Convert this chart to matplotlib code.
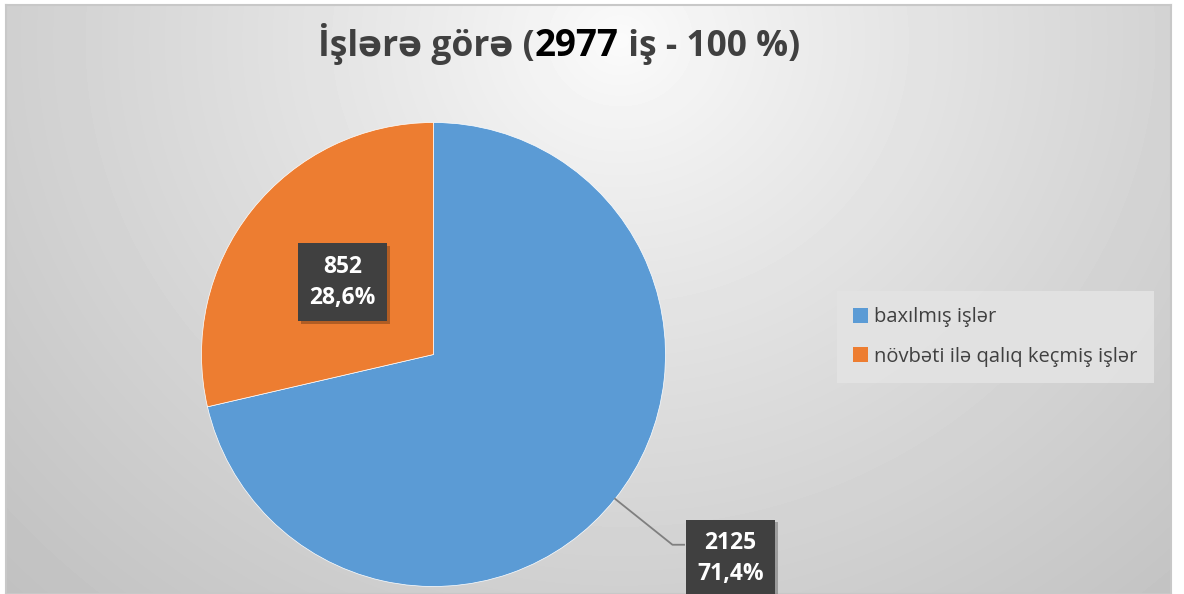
import numpy as np
import matplotlib
matplotlib.use('Agg')
import matplotlib.pyplot as plt
import matplotlib.patheffects as pe
from matplotlib.offsetbox import TextArea, HPacker, AnchoredOffsetbox

# dane
kategorie = ['baxılmış işlər', 'növbəti ilə qalıq keçmiş işlər']
wartosci = [2125, 852]
kolory = ['#5B9BD5', '#ED7D31']
suma = sum(wartosci)

plt.rcParams['font.family'] = ['Open Sans', 'DejaVu Sans']
plt.rcParams['hatch.color'] = '#555555'
plt.rcParams['hatch.linewidth'] = 1.2

W, H = 1184, 594
fig = plt.figure(figsize=(W / 100, H / 100), dpi=100)
fig.patch.set_facecolor('white')

# tlo wykresu - gradient radialny
x0, x1, y0, y1 = 6, 1171, 5, 594
bg = fig.add_axes([x0 / W, 1 - y1 / H, (x1 - x0) / W, (y1 - y0) / H])
xx, yy = np.meshgrid(np.arange(x0, x1), np.arange(y0, y1))
d = np.sqrt((xx - 620) ** 2 + ((yy - 40) * 1.1) ** 2)
d = d / d.max()
jasnosc = 0.985 - 0.23 * d ** 0.85
bg.imshow(jasnosc, cmap='gray', vmin=0, vmax=1, aspect='auto', interpolation='bilinear')
bg.set_xticks([])
bg.set_yticks([])
for s in bg.spines.values():
    s.set_color('#c8c8c8')
    s.set_linewidth(1.5)

# wykres kolowy
cx, cy, r = 433.5, 354.5, 232
ax = fig.add_axes([(cx - r) / W, 1 - (cy + r) / H, 2 * r / W, 2 * r / H])
wedges, _ = ax.pie(wartosci, colors=kolory, startangle=90, counterclock=False,
                   radius=1, wedgeprops={'linewidth': 0.5, 'edgecolor': 'white'})
ax.set_xlim(-1, 1)
ax.set_ylim(-1, 1)
ax.set_aspect('auto')
ax.axis('off')

def etykieta(v):
    return f'{v}\n{v / suma * 100:.1f}%'.replace('.', ',')

box = dict(boxstyle='square,pad=0.5', fc='#404040', ec='none', hatch='..')
cien = [pe.withSimplePatchShadow(offset=(2, -2), shadow_rgbFace='black', alpha=0.25)]

# etykieta pomaranczowa (wewnatrz)
w = wedges[1]
kat = np.deg2rad((w.theta1 + w.theta2) / 2)
t = ax.text(0.5 * np.cos(kat), 0.5 * np.sin(kat), etykieta(wartosci[1]),
            ha='center', va='center', fontsize=16.5, fontweight='bold', color='white',
            linespacing=1.4, bbox=box)
t.get_bbox_patch().set_path_effects(cien)

# etykieta niebieska (na zewnatrz z linia)
w = wedges[0]
kat = np.deg2rad((w.theta1 + w.theta2) / 2)
px, py = np.cos(kat), np.sin(kat)
lx, ly = 1.28, -0.88
ax.plot([px, lx - 0.25, lx - 0.2], [py, ly + 0.06, ly + 0.06], color='#7f7f7f',
        lw=1.3, clip_on=False, zorder=3)
t = ax.text(lx, ly, etykieta(wartosci[0]), ha='center', va='center', fontsize=16.5,
            fontweight='bold', color='white', linespacing=1.4, bbox=box,
            clip_on=False, zorder=4)
t.get_bbox_patch().set_path_effects(cien)

# legenda
leg = fig.legend(wedges, kategorie, loc='center left',
                 bbox_to_anchor=(837 / W, 1 - 337 / H), frameon=True, fontsize=14.5,
                 handlelength=0.75, handleheight=0.75, handletextpad=0.3,
                 labelspacing=0.95, borderpad=0.8, borderaxespad=0)
leg.get_frame().set_facecolor('#e3e3e3')
leg.get_frame().set_edgecolor('none')
leg.get_frame().set_alpha(0.9)
leg.get_frame().set_boxstyle('square', pad=0)
for tx in leg.get_texts():
    tx.set_color('#404040')
for h in leg.legend_handles:
    h.set_edgecolor('none')

# tytul
czesci = [('İşlərə görə (', '#404040', 25.5), ('2977', 'black', 26.5), (' iş - 100 %)', '#404040', 25.5)]
obszary = [TextArea(s, textprops=dict(color=c, fontsize=f, fontweight='bold')) for s, c, f in czesci]
tytul = HPacker(children=obszary, align='baseline', pad=0, sep=0)
ab = AnchoredOffsetbox(loc='center', child=tytul, frameon=False,
                       bbox_to_anchor=(559 / W, 1 - 44 / H), bbox_transform=fig.transFigure,
                       borderpad=0, pad=0)
fig.add_artist(ab)

fig.savefig('out.png', dpi=100)
